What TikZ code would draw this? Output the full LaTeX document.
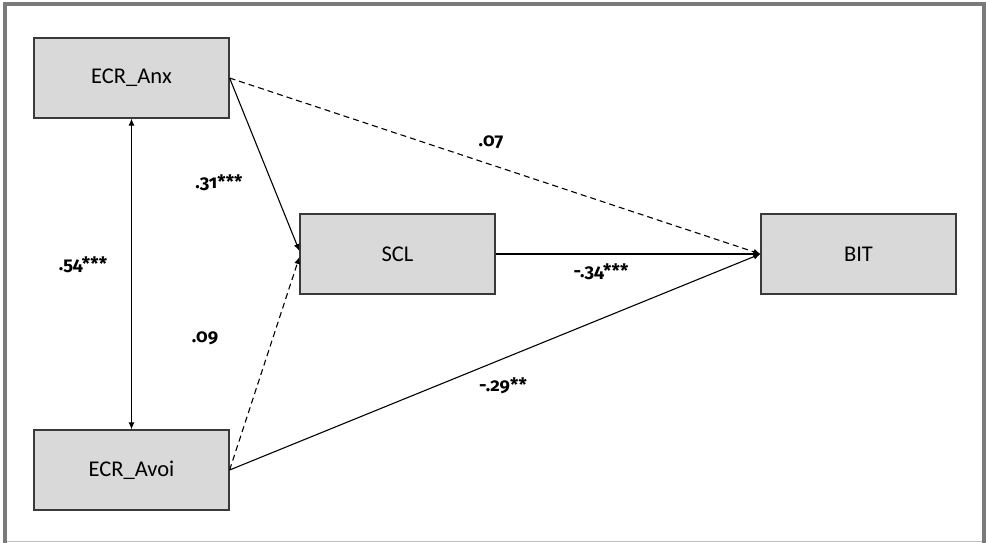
\documentclass[tikz,border=0pt]{standalone}
\usepackage{fontspec}
\setmainfont{Carlito}
\newfontfamily\coeffont[Numbers=OldStyle]{Fira Sans}
\usetikzlibrary{arrows.meta}
\definecolor{boxfill}{HTML}{D9D9D9}
\definecolor{boxline}{HTML}{3A3A3A}
\definecolor{framegray}{HTML}{7A7A7A}
\definecolor{framelight}{HTML}{BFBFBF}
\begin{document}
\begin{tikzpicture}[x=1pt,y=-1pt,
  var/.style={draw=boxline, fill=boxfill, line width=1.2pt,
    minimum width=195pt, minimum height=80pt, inner sep=0pt,
    font=\fontsize{22.5}{26}\selectfont},
  link/.style={line width=1.1pt, -{Latex[length=7pt,width=6pt]}},
  dashlink/.style={link, dash pattern=on 6pt off 4pt},
  coef/.style={font=\coeffont\bfseries\fontsize{18.5}{22}\selectfont, inner sep=0pt}]
\useasboundingbox (0,0) rectangle (986,543);
\fill[white] (0,0) rectangle (986,543);
% outer frame
\draw[framegray, line width=4pt] (3,4) -- (984,4);
\draw[framegray, line width=4pt] (5,2) -- (5,543);
\draw[framegray, line width=4pt] (984,2) -- (984,543);
\draw[framelight, line width=1.5pt] (7,541.5) -- (982,541.5);

% variables
\node[var] (anx)  at (131.5,78)  {ECR\_Anx};
\node[var] (avoi) at (131.5,470) {ECR\_Avoi};
\node[var] (scl)  at (397.5,254) {SCL};
\node[var] (bit)  at (858.5,254) {BIT};

% paths
\draw[line width=1.1pt, {Latex[length=7pt,width=6pt]}-{Latex[length=7pt,width=6pt]}] (anx.south) -- (avoi.north);
\draw[link] (anx.east) -- ([yshift=3pt]scl.west);
\draw[dashlink] (avoi.east) -- ([yshift=-3pt]scl.west);
\draw[dashlink] (anx.east) -- (bit.west);
\draw[link] (scl.east) -- (bit.west);
\draw[link] (avoi.east) -- (bit.west);

% coefficients
\node[coef] (c54) at (83,265)  {.54***};
\node[coef] (c31) at (219,183) {.31***};
\node[coef] (c09) at (205,338) {.09};
\node[coef] (c07) at (491,142) {.07};
\node[coef] (c34) at (601,272) {-.34***};
\node[coef] (c29) at (503,386) {-.29**};
\end{tikzpicture}
\end{document}
